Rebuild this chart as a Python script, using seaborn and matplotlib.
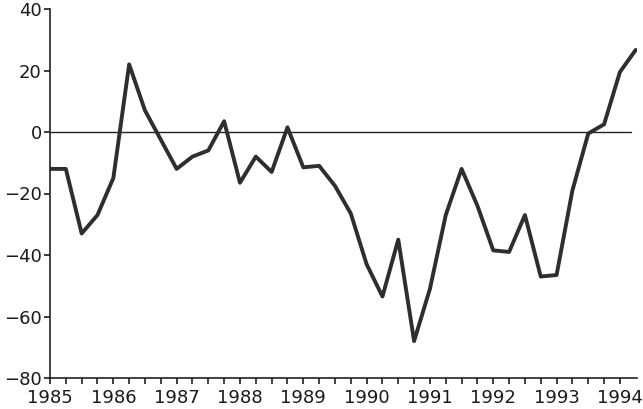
import matplotlib
matplotlib.use("Agg")
import matplotlib.pyplot as plt
import numpy as np
import pandas as pd
import seaborn as sns

# quarterly series, 1985 Q1 .. 1994 Q2
quarters = [1985 + i / 4 for i in range(38)]
values = [
    -12, -12, -33, -27, -15, 22, 7, -2.5,
    -12, -8, -6, 3.5, -16.5, -8, -13, 1.5,
    -11.5, -11, -17.5, -26.5, -43, -53.5, -35, -68,
    -51, -27, -12, -24, -38.5, -39, -27, -47,
    -46.5, -19, -0.5, 2.5, 19.5, 26.7,
]
year_ticks = list(range(1985, 1995))
y_ticks = [-80, -60, -40, -20, 0, 20, 40]

df = pd.DataFrame({"year": quarters, "value": values})

sns.set_style("ticks")
plt.rcParams["font.family"] = ["DejaVu Sans"]

fig = plt.figure(figsize=(6.43, 4.09), dpi=100)
ax = fig.add_axes([50 / 643, 1 - 378 / 409, 587 / 643, 369 / 409])

ax.axhline(0, xmin=0, xmax=0.99, color="#222222", lw=1.0)
sns.lineplot(data=df, x="year", y="value", ax=ax, color="#2e2e2e", lw=2.8)

ax.set_xlim(1985, 1994.27)
ax.set_ylim(-80, 40)
ax.set_xticks(year_ticks)
ax.set_xticks(np.arange(1985, 1994.1, 0.25), minor=True)
ax.set_yticks(y_ticks)
ax.set_yticklabels([f"\u2212{abs(v)}" if v < 0 else str(v) for v in y_ticks])
ax.set_xlabel("")
ax.set_ylabel("")

for side in ["top", "right"]:
    ax.spines[side].set_visible(False)
for side in ["left", "bottom"]:
    ax.spines[side].set_color("#222222")
    ax.spines[side].set_linewidth(1.2)

ax.tick_params(axis="both", which="major", labelsize=13, colors="#1a1a1a",
               length=4, width=1.2, pad=2)
ax.tick_params(axis="x", which="minor", length=4, width=1.2, color="#222222")
ax.tick_params(axis="x", which="major", pad=4)

fig.savefig("out.png", dpi=100)
